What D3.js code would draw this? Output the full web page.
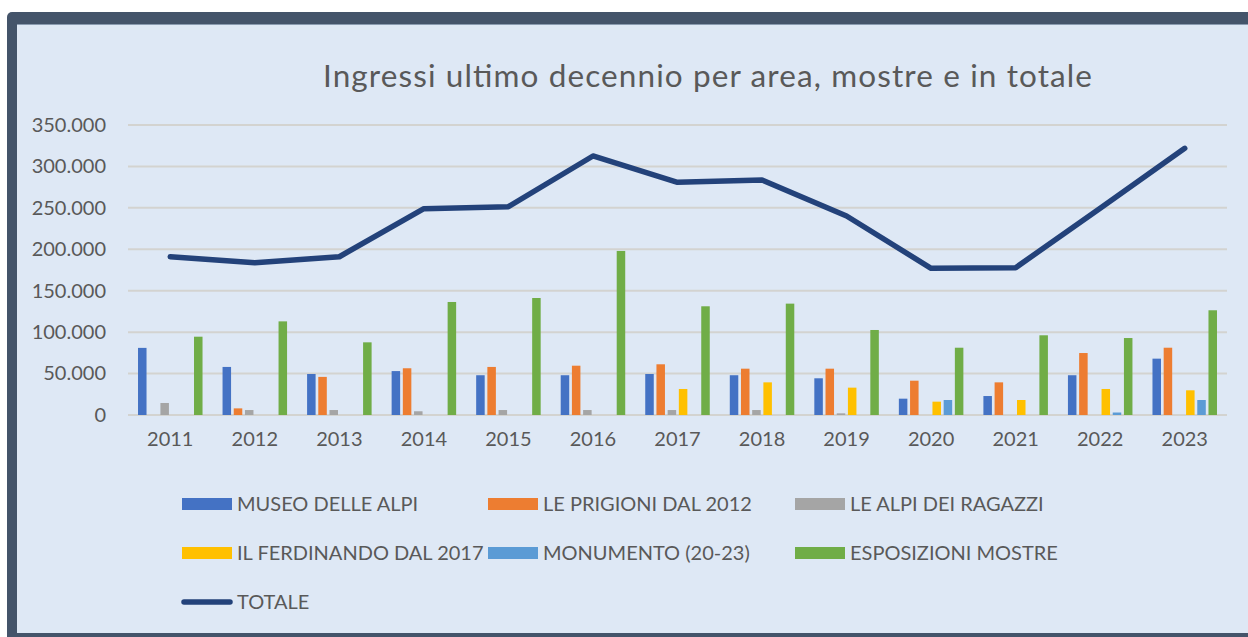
<!DOCTYPE html>
<html>
<head>
<meta charset="utf-8">
<script src="https://cdn.jsdelivr.net/npm/d3@7"></script>
<style>
html,body{margin:0;padding:0;background:#ffffff;}
svg{display:block;}
text{font-family:Lato,"Open Sans",sans-serif;fill:#595959;}
</style>
</head>
<body>
<svg id="chart" width="1248" height="637"></svg>
<script>
const years = ["2011","2012","2013","2014","2015","2016","2017","2018","2019","2020","2021","2022","2023"];
const seriesNames = ["MUSEO DELLE ALPI","LE PRIGIONI DAL 2012","LE ALPI DEI RAGAZZI","IL FERDINANDO DAL 2017","MONUMENTO (20-23)","ESPOSIZIONI MOSTRE"];
const museo      = [81000,58000,49500,53000,48000,48000,49500,48000,44300,19700,22900,48000,68000];
const prigioni   = [null,8000,46000,56400,58000,59500,61200,55900,55900,41400,39400,74800,81200];
const ragazzi    = [14500,6000,6000,4500,6000,6000,6000,6000,2000,null,null,null,null];
const ferdinando = [null,null,null,null,null,null,31400,39400,33000,16100,18100,31400,29800];
const monumento  = [null,null,null,null,null,null,null,null,null,18100,null,3000,18100];
const mostre     = [94500,113000,87700,136400,141200,198000,131200,134400,102600,81200,96200,92900,126400];
const totale     = [191000,183800,191000,249000,251400,312600,280900,283600,240200,177000,177800,249600,321900];
const yTicks     = [0,50000,100000,150000,200000,250000,300000,350000];
const titleText  = "Ingressi ultimo decennio per area, mostre e in totale";
const lineName   = "TOTALE";

const seriesValues = [museo, prigioni, ragazzi, ferdinando, monumento, mostre];
const colors = ["#4472c4","#ed7d31","#a5a5a5","#ffc000","#5b9bd5","#70ad47"];
const lineColor = "#23427a";

const svg = d3.select("#chart");

// frame
svg.append("rect").attr("x",7).attr("y",12).attr("width",1300).attr("height",700).attr("rx",5).attr("fill","#44546a");
svg.append("rect").attr("x",17).attr("y",24).attr("width",1300).attr("height",609).attr("fill","#dee8f5");
svg.append("line").attr("x1",17).attr("x2",1248).attr("y1",24.5).attr("y2",24.5).attr("stroke","#8a9bb0").attr("stroke-width",1);

const x0 = d3.scaleBand().domain(years).range([128,1227]).padding(0);
const groupW = 67.2;
const x1 = d3.scaleBand().domain(seriesNames).range([0,groupW]).paddingInner(0.24).paddingOuter(0.12);
const y = d3.scaleLinear().domain([0,350000]).range([415,125]);

const loc = d3.formatLocale({decimal:",",thousands:".",grouping:[3],currency:["€",""]});
const fmt = loc.format(",");

// gridlines
const grid = svg.append("g");
grid.selectAll("line").data(yTicks).join("line")
  .attr("x1",128).attr("x2",1227)
  .attr("y1",d=>y(d)).attr("y2",d=>y(d))
  .attr("stroke","#d3d3d0").attr("stroke-width",2);

// y axis
const yAxis = d3.axisLeft(y).tickValues(yTicks).tickFormat(fmt).tickSize(0).tickPadding(0);
const gy = svg.append("g").attr("transform","translate(106,0)").call(yAxis);
gy.select(".domain").remove();
gy.selectAll("text").attr("font-size",20).attr("font-family","Lato").attr("fill","#595959");

// x axis
const xAxis = d3.axisBottom(x0).tickSize(0).tickPadding(0);
const gx = svg.append("g").attr("transform","translate(0,432)").call(xAxis);
gx.select(".domain").remove();
gx.selectAll("text").attr("font-size",20).attr("font-family","Lato").attr("fill","#595959");

// bars
const barData = [];
seriesNames.forEach((s,i)=>{
  years.forEach((yr,j)=>{
    const v = seriesValues[i][j];
    if(v!==null) barData.push({s,i,yr,v});
  });
});
svg.append("g").selectAll("rect").data(barData).join("rect")
  .attr("x",d=>x0(d.yr)+(x0.bandwidth()-groupW)/2+x1(d.s))
  .attr("width",x1.bandwidth())
  .attr("y",d=>y(d.v))
  .attr("height",d=>y(0)-y(d.v))
  .attr("fill",d=>colors[d.i]);

// line
const line = d3.line().x((d,j)=>x0(years[j])+x0.bandwidth()/2).y(d=>y(d));
svg.append("path").datum(totale).attr("d",line)
  .attr("fill","none").attr("stroke",lineColor).attr("stroke-width",5.5)
  .attr("stroke-linejoin","round").attr("stroke-linecap","round");

// title
svg.append("text").attr("x",323).attr("y",87)
  .attr("font-size",31.5).attr("textLength",769).attr("lengthAdjust","spacing")
  .attr("fill","#595959").text(titleText);

// legend
const legPos = [[182,504],[488,504],[795,504],[182,553],[488,553],[795,553]];
const leg = svg.append("g");
seriesNames.forEach((s,i)=>{
  const [lx,ly] = legPos[i];
  leg.append("rect").attr("x",lx).attr("y",ly-6).attr("width",50).attr("height",12).attr("fill",colors[i]);
  leg.append("text").attr("x",lx+55).attr("y",ly+7).attr("font-size",20).attr("fill","#595959").text(s);
});
leg.append("line").attr("x1",184).attr("x2",230).attr("y1",602).attr("y2",602)
  .attr("stroke",lineColor).attr("stroke-width",5.5).attr("stroke-linecap","round");
leg.append("text").attr("x",237).attr("y",609).attr("font-size",20).attr("fill","#595959").text(lineName);
</script>
</body>
</html>
